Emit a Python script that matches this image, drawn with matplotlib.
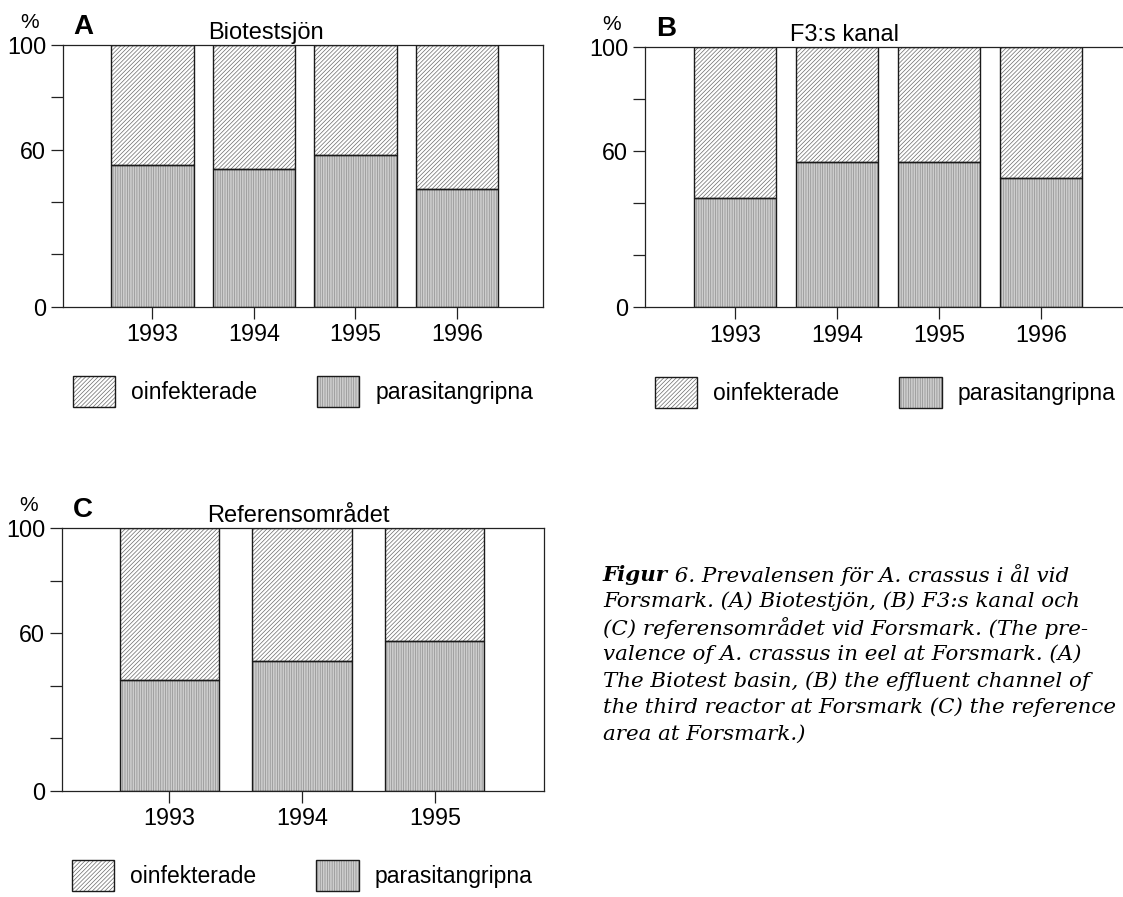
import matplotlib
matplotlib.use("Agg")
import matplotlib.pyplot as plt
from matplotlib.patches import Patch

# values (percent parasitangripna, rest oinfekterade)
years_ab = ["1993", "1994", "1995", "1996"]
years_c = ["1993", "1994", "1995"]
infected_a = [54.0, 52.8, 58.0, 44.8]
infected_b = [42.2, 56.0, 56.0, 49.6]
infected_c = [42.2, 49.5, 57.1]
total = 100
labels = ["oinfekterade", "parasitangripna"]

caption_lines = [
    "Forsmark. (A) Biotestjön, (B) F3:s kanal och",
    "(C) referensområdet vid Forsmark. (The pre-",
    "valence of A. crassus in eel at Forsmark. (A)",
    "The Biotest basin, (B) the effluent channel of",
    "the third reactor at Forsmark (C) the reference",
    "area at Forsmark.)",
]

W, H = 1123, 897
plt.rcParams['font.family'] = ['Liberation Sans', 'DejaVu Sans']
plt.rcParams['hatch.linewidth'] = 0.5

UP_FC, UP_HC = 'white', '#6a6a6a'
LO_FC, LO_HC = '#cdcdcd', '#8e8e8e'
UP_HATCH, LO_HATCH = '////////', '|||||||'
EDGE = '#1a1a1a'
FS = 16.8


def px(x, y):
    return x / W, 1 - y / H


def draw_panel(ax, years, infected, xlim, width):
    x = list(range(len(years)))
    clean = [total - v for v in infected]
    ax.bar(x, infected, width, color=LO_FC, edgecolor=LO_HC, hatch=LO_HATCH, linewidth=0)
    ax.bar(x, clean, width, bottom=infected, color=UP_FC, edgecolor=UP_HC, hatch=UP_HATCH, linewidth=0)
    ax.bar(x, infected, width, fill=False, edgecolor=EDGE, linewidth=1.0)
    ax.bar(x, clean, width, bottom=infected, fill=False, edgecolor=EDGE, linewidth=1.0)
    ax.set_xlim(*xlim)
    ax.set_ylim(0, 100)
    ax.set_xticks(x)
    ax.set_xticklabels(years, fontsize=FS)
    ax.set_yticks([0, 20, 40, 60, 80, 100])
    ax.set_yticklabels(["0", "", "", "60", "", "100"], fontsize=FS)
    ax.tick_params(length=8.5, width=0.9, pad=3.5, color='#222')
    for s in ax.spines.values():
        s.set_linewidth(0.9)
        s.set_color('#222')
    h_up = (Patch(facecolor=UP_FC, edgecolor=UP_HC, hatch=UP_HATCH, linewidth=0),
            Patch(fill=False, edgecolor=EDGE, linewidth=1.0))
    h_lo = (Patch(facecolor=LO_FC, edgecolor=LO_HC, hatch=LO_HATCH, linewidth=0),
            Patch(fill=False, edgecolor=EDGE, linewidth=1.0))
    return [h_up, h_lo]


fig = plt.figure(figsize=(W / 100, H / 100), dpi=100)

panels = [
    # letter, title, years, data, axes box px (l, t, r, b), xlim, bar width
    ("A", "Biotestsjön", years_ab, infected_a, (62.7, 45, 543, 306.7), (-0.883, 3.849), 0.814),
    ("B", "F3:s kanal", years_ab, infected_b, (645, 47, 1128, 307.5), (-0.882, 3.853), 0.81),
    ("C", "Referensområdet", years_c, infected_c, (62, 528, 544, 790.7), (-0.805, 2.82), 0.745),
]

for letter, title, years, data, (l, t, r, b), xlim, bw in panels:
    ax = fig.add_axes([l / W, 1 - b / H, (r - l) / W, (b - t) / H])
    handles = draw_panel(ax, years, data, xlim, bw)
    fig.text(*px(l - 33, t - 23), "%", fontsize=15, ha='center', va='center')
    fig.text(*px(l + 21, t - 18), letter, fontsize=20, fontweight='bold', ha='center', va='center')
    fig.text(*px(l + 145, t - 6), title, fontsize=17, ha='left', va='baseline')
    ax.legend(handles=handles, labels=labels, ncol=2, loc='upper left',
              bbox_to_anchor=px(l + 10, b + 69), bbox_transform=fig.transFigure,
              frameon=False, fontsize=16.5, handlelength=1.85, handleheight=1.75,
              handletextpad=0.7, columnspacing=2.6, borderpad=0, borderaxespad=0)

# caption (sized so the longest line still fits inside the figure)
cap_x, cap_y, cap_dy = 603, 575, 26.5
cap_font = dict(family='DejaVu Serif', style='italic', fontsize=15.4, va='center', ha='left')
t0 = fig.text(*px(cap_x, cap_y), "Figur", fontweight='bold', **cap_font)
fig.canvas.draw()
ext = t0.get_window_extent()
fig.text(ext.x1 / W, 1 - cap_y / H, " 6. Prevalensen för A. crassus i ål vid", **cap_font)
for i, line in enumerate(caption_lines):
    fig.text(*px(cap_x, cap_y + (i + 1) * cap_dy), line, **cap_font)

fig.savefig("out.png", dpi=100)
